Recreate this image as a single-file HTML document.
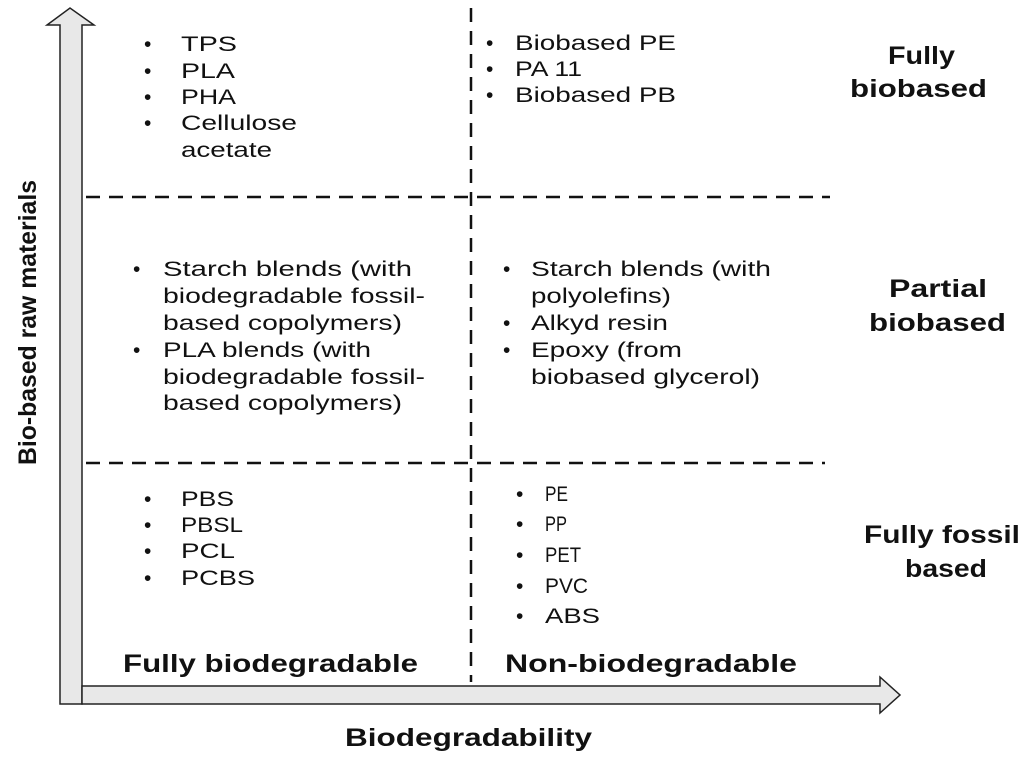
<!DOCTYPE html>
<html><head><meta charset="utf-8"><style>
html,body{margin:0;padding:0;background:#fff;}
svg{display:block;}
.t{font-family:"Liberation Sans",Arial,sans-serif;font-size:21px;fill:#111;}
.b{font-family:"Liberation Sans",Arial,sans-serif;font-weight:bold;font-size:25px;fill:#111;}
</style></head><body>
<svg width="1024" height="757" viewBox="0 0 1024 757" xmlns="http://www.w3.org/2000/svg">
<polygon points="60,704 60,25 47,25 70,8 94,25 82,25 82,704" fill="#e8e8e8" stroke="#222" stroke-width="1.5"/>
<polygon points="82,686 880,686 880,677 900,695 880,713 880,704 82,704" fill="#e8e8e8" stroke="#222" stroke-width="1.5"/>
<g stroke="#111" stroke-width="2.5" stroke-dasharray="14,9" fill="none">
<line x1="86" y1="197" x2="830" y2="197"/>
<line x1="86" y1="463" x2="825" y2="463"/>
<line x1="471" y1="8" x2="471" y2="682"/>
</g>
<g class="b" lengthAdjust="spacingAndGlyphs">
<text transform="translate(36,465) rotate(-90)" textLength="285" lengthAdjust="spacingAndGlyphs">Bio-based raw materials</text>
<text x="345" y="746" textLength="247" lengthAdjust="spacingAndGlyphs">Biodegradability</text>
<text x="123" y="672" textLength="295" lengthAdjust="spacingAndGlyphs">Fully biodegradable</text>
<text x="505" y="672" textLength="292" lengthAdjust="spacingAndGlyphs">Non-biodegradable</text>
<text x="888" y="64" textLength="67" lengthAdjust="spacingAndGlyphs">Fully</text>
<text x="850" y="97" textLength="137" lengthAdjust="spacingAndGlyphs">biobased</text>
<text x="889" y="297" textLength="98" lengthAdjust="spacingAndGlyphs">Partial</text>
<text x="869" y="331" textLength="137" lengthAdjust="spacingAndGlyphs">biobased</text>
<text x="864" y="543" textLength="156" lengthAdjust="spacingAndGlyphs">Fully fossil</text>
<text x="905" y="577" textLength="82" lengthAdjust="spacingAndGlyphs">based</text>
</g>
<g class="t">
<text x="144" y="51">•</text><text x="181" y="51" textLength="56" lengthAdjust="spacingAndGlyphs">TPS</text>
<text x="144" y="78">•</text><text x="181" y="78" textLength="54" lengthAdjust="spacingAndGlyphs">PLA</text>
<text x="144" y="104">•</text><text x="181" y="104" textLength="55" lengthAdjust="spacingAndGlyphs">PHA</text>
<text x="144" y="130">•</text><text x="181" y="130" textLength="116" lengthAdjust="spacingAndGlyphs">Cellulose</text>
<text x="181" y="157" textLength="91" lengthAdjust="spacingAndGlyphs">acetate</text>

<text x="486" y="50">•</text><text x="515" y="50" textLength="161" lengthAdjust="spacingAndGlyphs">Biobased PE</text>
<text x="486" y="76">•</text><text x="515" y="76" textLength="67" lengthAdjust="spacingAndGlyphs">PA 11</text>
<text x="486" y="102">•</text><text x="515" y="102" textLength="161" lengthAdjust="spacingAndGlyphs">Biobased PB</text>

<text x="133" y="276">•</text><text x="163" y="276" textLength="249" lengthAdjust="spacingAndGlyphs">Starch blends (with</text>
<text x="163" y="303" textLength="262" lengthAdjust="spacingAndGlyphs">biodegradable fossil-</text>
<text x="163" y="330" textLength="239" lengthAdjust="spacingAndGlyphs">based copolymers)</text>
<text x="133" y="357">•</text><text x="163" y="357" textLength="208" lengthAdjust="spacingAndGlyphs">PLA blends (with</text>
<text x="163" y="384" textLength="262" lengthAdjust="spacingAndGlyphs">biodegradable fossil-</text>
<text x="163" y="410" textLength="239" lengthAdjust="spacingAndGlyphs">based copolymers)</text>

<text x="503" y="276">•</text><text x="531" y="276" textLength="240" lengthAdjust="spacingAndGlyphs">Starch blends (with</text>
<text x="531" y="303" textLength="140" lengthAdjust="spacingAndGlyphs">polyolefins)</text>
<text x="503" y="330">•</text><text x="531" y="330" textLength="137" lengthAdjust="spacingAndGlyphs">Alkyd resin</text>
<text x="503" y="357">•</text><text x="531" y="357" textLength="151" lengthAdjust="spacingAndGlyphs">Epoxy (from</text>
<text x="531" y="384" textLength="229" lengthAdjust="spacingAndGlyphs">biobased glycerol)</text>

<text x="144" y="506">•</text><text x="181" y="506" textLength="53" lengthAdjust="spacingAndGlyphs">PBS</text>
<text x="144" y="532">•</text><text x="181" y="532" textLength="62" lengthAdjust="spacingAndGlyphs">PBSL</text>
<text x="144" y="558">•</text><text x="181" y="558" textLength="54" lengthAdjust="spacingAndGlyphs">PCL</text>
<text x="144" y="585">•</text><text x="181" y="585" textLength="74" lengthAdjust="spacingAndGlyphs">PCBS</text>

<text x="516" y="501">•</text><text x="545" y="501" textLength="23" lengthAdjust="spacingAndGlyphs">PE</text>
<text x="516" y="531">•</text><text x="545" y="531" textLength="22" lengthAdjust="spacingAndGlyphs">PP</text>
<text x="516" y="562">•</text><text x="545" y="562" textLength="36" lengthAdjust="spacingAndGlyphs">PET</text>
<text x="516" y="593">•</text><text x="545" y="593" textLength="43" lengthAdjust="spacingAndGlyphs">PVC</text>
<text x="516" y="623">•</text><text x="545" y="623" textLength="55" lengthAdjust="spacingAndGlyphs">ABS</text>
</g>
</svg>
</body></html>
